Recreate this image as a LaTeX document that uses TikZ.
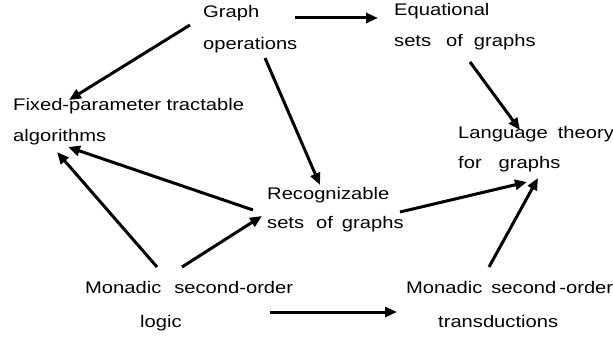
\documentclass[tikz,border=0pt]{standalone}
\usepackage{fontspec}
\setmainfont{Liberation Sans}[FakeStretch=1.2]
\usetikzlibrary{arrows.meta,calc}
\tikzset{
  lbl/.style={font=\fontsize{16.8}{#1}\selectfont, align=left, inner sep=0pt, anchor=base west},
  conn/.style={line width=3pt, -{Triangle[length=12pt,width=10pt]}}
}
\begin{document}
\begin{tikzpicture}[x=1pt,y=-1pt]
\useasboundingbox[fill=white] (0,0) rectangle (613,337);
\node[lbl=32] (g) at (203,49) {Graph\\operations};
\node[lbl=31] (eq) at (394,47) {Equational\\sets\hspace{15pt}of\hspace{11pt}graphs};
\node[lbl=31] (fpt) at (13,141) {Fixed-parameter tractable\\algorithms};
\node[lbl=30] (lang) at (458,168) {Language\hspace{10pt}theory\\for\hspace{17pt}graphs};
\node[lbl=29] (rec) at (267,228) {Recognizable\\sets\hspace{12pt}of\hspace{9pt}graphs};
\node[lbl=34] (msol) at (85,327) {Monadic\hspace{13pt}second-order\\\hspace*{55pt}logic};
\node[lbl=34] (msot) at (406,327) {Monadic\hspace{9pt}second\hspace{3pt}-order\\\hspace*{32pt}transductions};

\draw[conn] ($(g.base west)+(92,-31)$) -- ($(eq.base west)+(-16,-29)$);
\draw[conn] ($(g.base west)+(-13,-24)$) -- ($(fpt.base west)+(56,-41)$);
\draw[conn] ($(g.base west)+(62,9)$) -- ($(rec.base west)+(53,-43)$);
\draw[conn] ($(eq.base west)+(76,15)$) -- ($(lang.base west)+(62,-38)$);
\draw[conn] ($(rec.base west)+(-14,-18)$) -- ($(fpt.base west)+(55,6)$);
\draw[conn] ($(msol.base west)+(72,-60)$) -- ($(fpt.base west)+(44,11)$);
\draw[conn] ($(msol.base west)+(97,-60)$) -- ($(rec.base west)+(-5,-12)$);
\draw[conn] ($(rec.base west)+(133,-16)$) -- ($(lang.base west)+(69,14)$);
\draw[conn] ($(msot.base west)+(83,-60)$) -- ($(lang.base west)+(80,10)$);
\draw[conn] ($(msol.base west)+(185,-15)$) -- ($(msot.base west)+(-9,-15)$);
\end{tikzpicture}
\end{document}
